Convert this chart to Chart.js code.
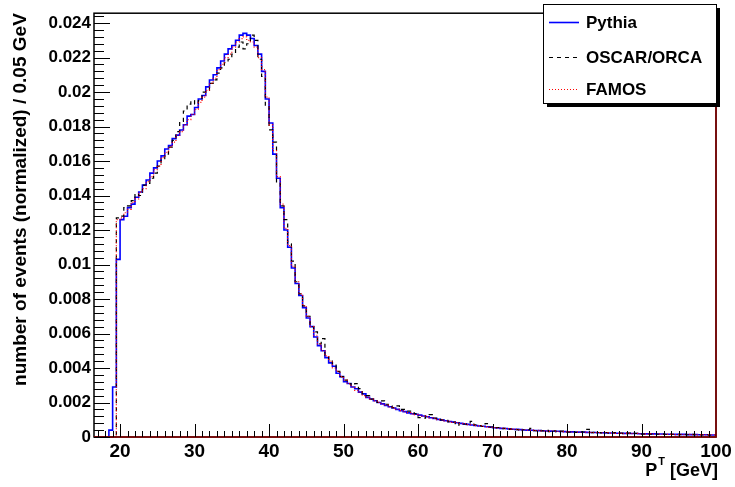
<!DOCTYPE html>
<html><head><meta charset="utf-8">
<script src="https://cdn.jsdelivr.net/npm/chart.js@4.4.1/dist/chart.umd.min.js"></script>
<style>html,body{margin:0;padding:0;background:#fff}canvas{display:block}</style>
</head><body>
<canvas id="c" width="735" height="487"></canvas>
<script>
// ---- data ----
const binStart = 16.5;      // GeV, left edge of first bin
const binWidth = 0.5;       // GeV
const xMin = 16.5, xMax = 100;
const yMin = 0, yMax = 0.02457;
const xTicks = [20, 30, 40, 50, 60, 70, 80, 90, 100];
const xTickLabels = ["20", "30", "40", "50", "60", "70", "80", "90", "100"];
const yTicks = [0, 0.002, 0.004, 0.006, 0.008, 0.010, 0.012, 0.014, 0.016, 0.018, 0.020, 0.022, 0.024];
const yTickLabels = ["0", "0.002", "0.004", "0.006", "0.008", "0.01", "0.012", "0.014", "0.016", "0.018", "0.02", "0.022", "0.024"];
const seriesNames = ["Pythia", "OSCAR/ORCA", "FAMOS"];
const xTitle = ["P", "T", " [GeV]"];
const yTitle = "number of events (normalized) / 0.05 GeV";

const pythia = [
  0, 0, 0, 0, 0, 0.0004, 0.0029,
  0.0103, 0.0126, 0.0128, 0.0133, 0.0135, 0.0139, 0.0142, 0.0146, 0.0149, 0.0153,
  0.0156, 0.0160, 0.0163, 0.0167, 0.0169, 0.0173, 0.0175, 0.0178, 0.0181, 0.0186,
  0.0187, 0.0191, 0.0196, 0.0198, 0.0203, 0.0207, 0.0210, 0.0214, 0.0218, 0.0222,
  0.0225, 0.0227, 0.0230, 0.0233, 0.0234, 0.0233, 0.0231, 0.0227, 0.0222, 0.0212,
  0.0196, 0.0182, 0.0164, 0.0150, 0.0133, 0.0120, 0.0110, 0.0098, 0.0089, 0.0082,
  0.0075, 0.0069, 0.0064, 0.0058, 0.0053, 0.0050, 0.0046, 0.0043, 0.0041, 0.0037,
  0.0035, 0.0032, 0.0031, 0.0029, 0.0028, 0.0026, 0.0025, 0.0023, 0.0022, 0.0021,
  0.00200, 0.00192, 0.00183, 0.00175, 0.00168, 0.00160, 0.00152, 0.00147, 0.00140, 0.00135,
  0.00132, 0.00127, 0.00122, 0.00117, 0.00112, 0.00107, 0.00102, 0.00098, 0.00094, 0.00090,
  0.00086, 0.00083, 0.00079, 0.00076, 0.00073, 0.00070, 0.00067, 0.00064, 0.00062, 0.00059,
  0.00057, 0.00054, 0.00052, 0.00050, 0.00049, 0.00047, 0.00045, 0.00044, 0.00043, 0.00041,
  0.00040, 0.00039, 0.00038, 0.00037, 0.00036, 0.00035, 0.00034, 0.00033, 0.00033, 0.00032,
  0.00031, 0.00030, 0.00030, 0.00029, 0.00028, 0.00028, 0.00027, 0.00026, 0.00026, 0.00025,
  0.00025, 0.00024, 0.00023, 0.00023, 0.00022, 0.00022, 0.00021, 0.00021, 0.00020, 0.00020,
  0.00019, 0.00019, 0.00018, 0.00018, 0.00018, 0.00017, 0.00017, 0.00016, 0.00016, 0.00016,
  0.00015, 0.00015, 0.00015, 0.00014, 0.00014, 0.00014, 0.00013, 0.00013, 0.00013, 0.00012
];

const oscarOrca = [
  0, 0, 0, 0, 0, 0, 0,
  0.0127, 0.0128, 0.0133, 0.0134, 0.0137, 0.0141, 0.0140, 0.0146, 0.0147, 0.0150,
  0.0153, 0.0157, 0.0161, 0.0164, 0.0168, 0.0172, 0.0177, 0.0183, 0.0189, 0.0193,
  0.0195, 0.0193, 0.0195, 0.0200, 0.0201, 0.0205, 0.0207, 0.0211, 0.0214, 0.0217,
  0.0219, 0.0222, 0.0226, 0.0229, 0.0225, 0.0228, 0.0233, 0.0230, 0.0219, 0.0209,
  0.0192, 0.0178, 0.0171, 0.0147, 0.0134, 0.0126, 0.0112, 0.0102, 0.0090, 0.0083,
  0.0076, 0.0070, 0.0064, 0.0061, 0.0054, 0.0057, 0.0047, 0.0044, 0.0042, 0.0038,
  0.0035, 0.0033, 0.0031, 0.0030, 0.0031, 0.0028, 0.0025, 0.0024, 0.0022, 0.0022,
  0.0020, 0.0021, 0.0019, 0.0018, 0.0017, 0.0018, 0.0016, 0.0016, 0.0015, 0.0014,
  0.00135, 0.00112, 0.00110, 0.00128, 0.00130, 0.00110, 0.00103, 0.00099, 0.00097, 0.00088,
  0.00086, 0.00068, 0.00080, 0.00074, 0.00075, 0.00091, 0.00070, 0.00066, 0.00061, 0.00078,
  0.00058, 0.00053, 0.00055, 0.00048, 0.00050, 0.00044, 0.00047, 0.00043, 0.00034, 0.00042,
  0.00043, 0.00050, 0.00037, 0.00039, 0.00035, 0.00038, 0.00031, 0.00036, 0.00030, 0.00034,
  0.00033, 0.00028, 0.00031, 0.00027, 0.00030, 0.00029, 0.00044, 0.00025, 0.00027, 0.00026,
  0.00024, 0.00026, 0.00022, 0.00025, 0.00021, 0.00023, 0.00020, 0.00022, 0.00019, 0.00021,
  0.00020, 0.00017, 0.00019, 0.00017, 0.00019, 0.00016, 0.00018, 0.00015, 0.00017, 0.00015,
  0.00016, 0.00014, 0.00016, 0.00013, 0.00015, 0.00013, 0.00014, 0.00012, 0.00013, 0.00011
];

const famos = [
  0, 0, 0, 0, 0, 0, 0,
  0.0126, 0.0127, 0.0130, 0.0132, 0.0136, 0.0138, 0.0142, 0.0144, 0.0148, 0.0151,
  0.0155, 0.0157, 0.0162, 0.0165, 0.0168, 0.0171, 0.0175, 0.0177, 0.0181, 0.0184,
  0.0187, 0.0190, 0.0194, 0.0197, 0.0201, 0.0205, 0.0208, 0.0213, 0.0216, 0.0220,
  0.0222, 0.0226, 0.0229, 0.0231, 0.0232, 0.0230, 0.0229, 0.0226, 0.0220, 0.0213,
  0.0197, 0.0181, 0.0166, 0.0151, 0.0135, 0.0121, 0.0111, 0.0099, 0.0090, 0.0083,
  0.0076, 0.0070, 0.0064, 0.0059, 0.0054, 0.0050, 0.0047, 0.0044, 0.0040, 0.0038,
  0.0035, 0.0033, 0.0031, 0.0029, 0.0027, 0.0026, 0.0024, 0.0023, 0.0022, 0.0021,
  0.00201, 0.00190, 0.00185, 0.00174, 0.00167, 0.00161, 0.00153, 0.00145, 0.00141, 0.00134,
  0.00130, 0.00126, 0.00121, 0.00118, 0.00111, 0.00108, 0.00101, 0.00099, 0.00093, 0.00091,
  0.00085, 0.00084, 0.00078, 0.00077, 0.00072, 0.00071, 0.00066, 0.00065, 0.00061, 0.00060,
  0.00056, 0.00055, 0.00051, 0.00051, 0.00048, 0.00048, 0.00044, 0.00045, 0.00042, 0.00042,
  0.00039, 0.00040, 0.00037, 0.00038, 0.00035, 0.00036, 0.00033, 0.00034, 0.00032, 0.00033,
  0.00030, 0.00031, 0.00029, 0.00030, 0.00027, 0.00029, 0.00026, 0.00027, 0.00025, 0.00026,
  0.00024, 0.00025, 0.00022, 0.00024, 0.00021, 0.00023, 0.00020, 0.00022, 0.00019, 0.00021,
  0.00018, 0.00020, 0.00017, 0.00019, 0.00017, 0.00018, 0.00016, 0.00017, 0.00015, 0.00017,
  0.00014, 0.00016, 0.00014, 0.00015, 0.00013, 0.00015, 0.00012, 0.00014, 0.00012, 0.00013
];

// ---- build histogram step points from bins ----
function toSteps(vals) {
  const pts = vals.map((v, i) => ({ x: binStart + i * binWidth, y: v }));
  pts.push({ x: binStart + vals.length * binWidth, y: vals[vals.length - 1] });
  return pts;
}

const FONT = '"Liberation Sans", Arial, Helvetica, sans-serif';
Chart.defaults.font.family = FONT;
Chart.defaults.color = '#000';

const rootDecor = {
  id: 'rootDecor',
  afterDatasetsDraw(chart) {
    const { ctx, chartArea: a, scales: { x, y } } = chart;
    ctx.save();
    // frame
    ctx.strokeStyle = '#000';
    ctx.lineWidth = 1.5;
    ctx.strokeRect(a.left, a.top, a.right - a.left, a.bottom - a.top);
    // bottom/right edges carry the (dark red) histogram outline colour
    ctx.strokeStyle = '#8a0000';
    ctx.lineWidth = 1.5;
    ctx.beginPath();
    ctx.moveTo(a.left, a.bottom); ctx.lineTo(a.right, a.bottom); ctx.lineTo(a.right, a.top + 2);
    ctx.stroke();
    // x ticks (inside)
    ctx.strokeStyle = '#000';
    ctx.lineWidth = 1;
    ctx.beginPath();
    for (let v = Math.ceil(xMin); v < xMax; v += 1) {
      const px = Math.round(x.getPixelForValue(v)) + 0.5;
      const len = xTicks.includes(v) ? 13 : 6;
      ctx.moveTo(px, a.bottom);
      ctx.lineTo(px, a.bottom - len);
    }
    // y ticks (inside)
    for (let k = 0; k * 0.0004 <= yMax + 1e-9; k++) {
      const v = k * 0.0004;
      const py = Math.round(y.getPixelForValue(v)) + 0.5;
      const len = (k % 5 === 0) ? 16 : 10;
      ctx.moveTo(a.left, py);
      ctx.lineTo(a.left + len, py);
    }
    ctx.stroke();
    // x title, right aligned, with superscript
    const big = 'bold 18px ' + FONT, small = 'bold 11px ' + FONT;
    ctx.fillStyle = '#000';
    ctx.textBaseline = 'alphabetic';
    ctx.font = big;
    const w3 = ctx.measureText(xTitle[2]).width;
    const w1 = ctx.measureText(xTitle[0]).width;
    ctx.font = small;
    const w2 = ctx.measureText(xTitle[1]).width;
    let tx = a.right + 1 - w3 - w2 - w1;
    const base = 476;
    ctx.font = big; ctx.textAlign = 'left';
    ctx.fillText(xTitle[0], tx, base);
    ctx.font = small;
    ctx.fillText(xTitle[1], tx + w1 + 1, base - 11);
    ctx.font = big;
    ctx.fillText(xTitle[2], tx + w1 + w2 + 1, base);
    ctx.restore();
  },
  afterDraw(chart) {
    const { ctx } = chart;
    const L = { x: 543, y: 4, w: 173, h: 99 };
    ctx.save();
    ctx.fillStyle = '#000';
    ctx.fillRect(L.x + 4, L.y + 4, L.w, L.h);
    ctx.fillStyle = '#fff';
    ctx.fillRect(L.x, L.y, L.w, L.h);
    ctx.strokeStyle = '#000';
    ctx.lineWidth = 1;
    ctx.strokeRect(L.x + 0.5, L.y + 0.5, L.w, L.h);
    const rows = [22, 57, 89];
    ctx.font = 'bold 17px ' + FONT;
    ctx.textBaseline = 'middle';
    ctx.textAlign = 'left';
    chart.data.datasets.forEach((ds, i) => {
      const ry = rows[i] + 0.5;
      ctx.strokeStyle = ds.borderColor;
      ctx.lineWidth = ds.borderWidth;
      ctx.setLineDash(ds.borderDash || []);
      ctx.beginPath();
      ctx.moveTo(549, ry);
      ctx.lineTo(579, ry);
      ctx.stroke();
      ctx.setLineDash([]);
      ctx.fillStyle = '#000';
      ctx.fillText(ds.label, 586, rows[i] + 1);
    });
    ctx.restore();
  }
};

new Chart(document.getElementById('c'), {
  type: 'line',
  data: {
    datasets: [
      { label: seriesNames[0], data: toSteps(pythia), borderColor: '#0000ff', borderWidth: 1.6, borderDash: [], order: 3 },
      { label: seriesNames[1], data: toSteps(oscarOrca), borderColor: '#000000', borderWidth: 1.2, borderDash: [4, 4], order: 2 },
      { label: seriesNames[2], data: toSteps(famos), borderColor: '#ff0000', borderWidth: 1.2, borderDash: [1, 2], order: 1 }
    ].map(d => Object.assign(d, { stepped: 'after', pointRadius: 0, fill: false, tension: 0, clip: false }))
  },
  options: {
    responsive: false,
    animation: false,
    devicePixelRatio: 1,
    events: [],
    layout: { padding: { left: 0, right: 19, top: 5, bottom: 0 } },
    plugins: { legend: { display: false }, tooltip: { enabled: false } },
    scales: {
      x: {
        type: 'linear', min: xMin, max: xMax,
        grid: { display: false, drawTicks: false },
        border: { display: false },
        afterBuildTicks: s => { s.ticks = xTicks.map(v => ({ value: v })); },
        afterFit: s => { s.height = 50; },
        ticks: {
          autoSkip: false, maxRotation: 0, padding: 3,
          font: { size: 19, weight: 'bold' },
          callback: v => xTickLabels[xTicks.indexOf(v)]
        }
      },
      y: {
        type: 'linear', min: yMin, max: yMax,
        grid: { display: false, drawTicks: false },
        border: { display: false },
        afterBuildTicks: s => { s.ticks = yTicks.map(v => ({ value: v })); },
        afterFit: s => { s.width = 94; },
        ticks: {
          autoSkip: false, padding: 3,
          font: { size: 17, weight: 'bold' },
          callback: (v, i) => yTickLabels[i]
        },
        title: {
          display: true, text: yTitle, align: 'end',
          font: { size: 19, weight: 'bold' },
          padding: { top: 9, bottom: 0 }
        }
      }
    }
  },
  plugins: [rootDecor]
});
</script>
</body></html>
